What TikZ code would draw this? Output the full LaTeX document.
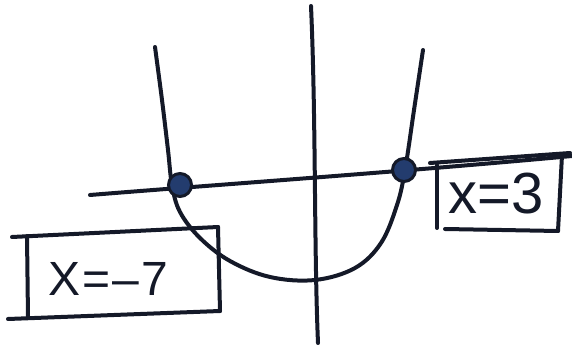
\documentclass[tikz,border=0pt]{standalone}
\usepackage{fontspec}
\setmainfont{Liberation Sans}
\definecolor{ink}{RGB}{20,25,40}
\definecolor{dotblue}{RGB}{35,60,110}
\begin{document}
\begin{tikzpicture}[x=1pt,y=-1pt,
  pen/.style={line width=4pt, draw=ink, line cap=round, line join=round},
  dotmark/.style={circle, fill=dotblue, draw=ink, line width=3pt, minimum size=23pt, inner sep=0pt}]
\useasboundingbox (0,0) rectangle (572,352);
% axes
\coordinate (yt) at (311,6);
\coordinate (yb) at (318,343);
\coordinate (xl) at (90,195);
\coordinate (xr) at (572,156);
\draw[pen] (yt) .. controls (316,120) and (314,250) .. (yb);
\draw[pen] (xl) .. controls (200,186) and (400,172) .. (xr);
% parabola
\draw[pen] plot[smooth, tension=0.6] coordinates {(155,47) (162,100) (168,150) (172,185) (180,212) (200,238) (230,261) (270,277) (315,280) (355,268) (381,243) (397,205) (405,170) (414,110) (423,50)};
% intersection dots
\node[dotmark] (p1) at (180,185) {};
\node[dotmark] (p2) at (404,170) {};
% box x=-7
\draw[pen] (12,237) -- (218,227);
\draw[pen] (27,236) -- (28,318);
\draw[pen] (218,227) -- (220,311);
\draw[pen] (8,319) -- (220,311);
\node[font=\fontsize{48}{52}\selectfont, text=ink] (l1) at (108,279) {X\kern2pt=\kern2pt–\kern2pt7};
% box x=3
\draw[pen] (430,163) -- (570,153);
\draw[pen] (437,165) -- (437,228);
\draw[pen] (562,155) -- (558,231);
\draw[pen] (445,229) -- (558,231);
\node[font=\fontsize{58}{62}\selectfont, text=ink] (l2) at (496,194) {x=3};
\end{tikzpicture}
\end{document}
